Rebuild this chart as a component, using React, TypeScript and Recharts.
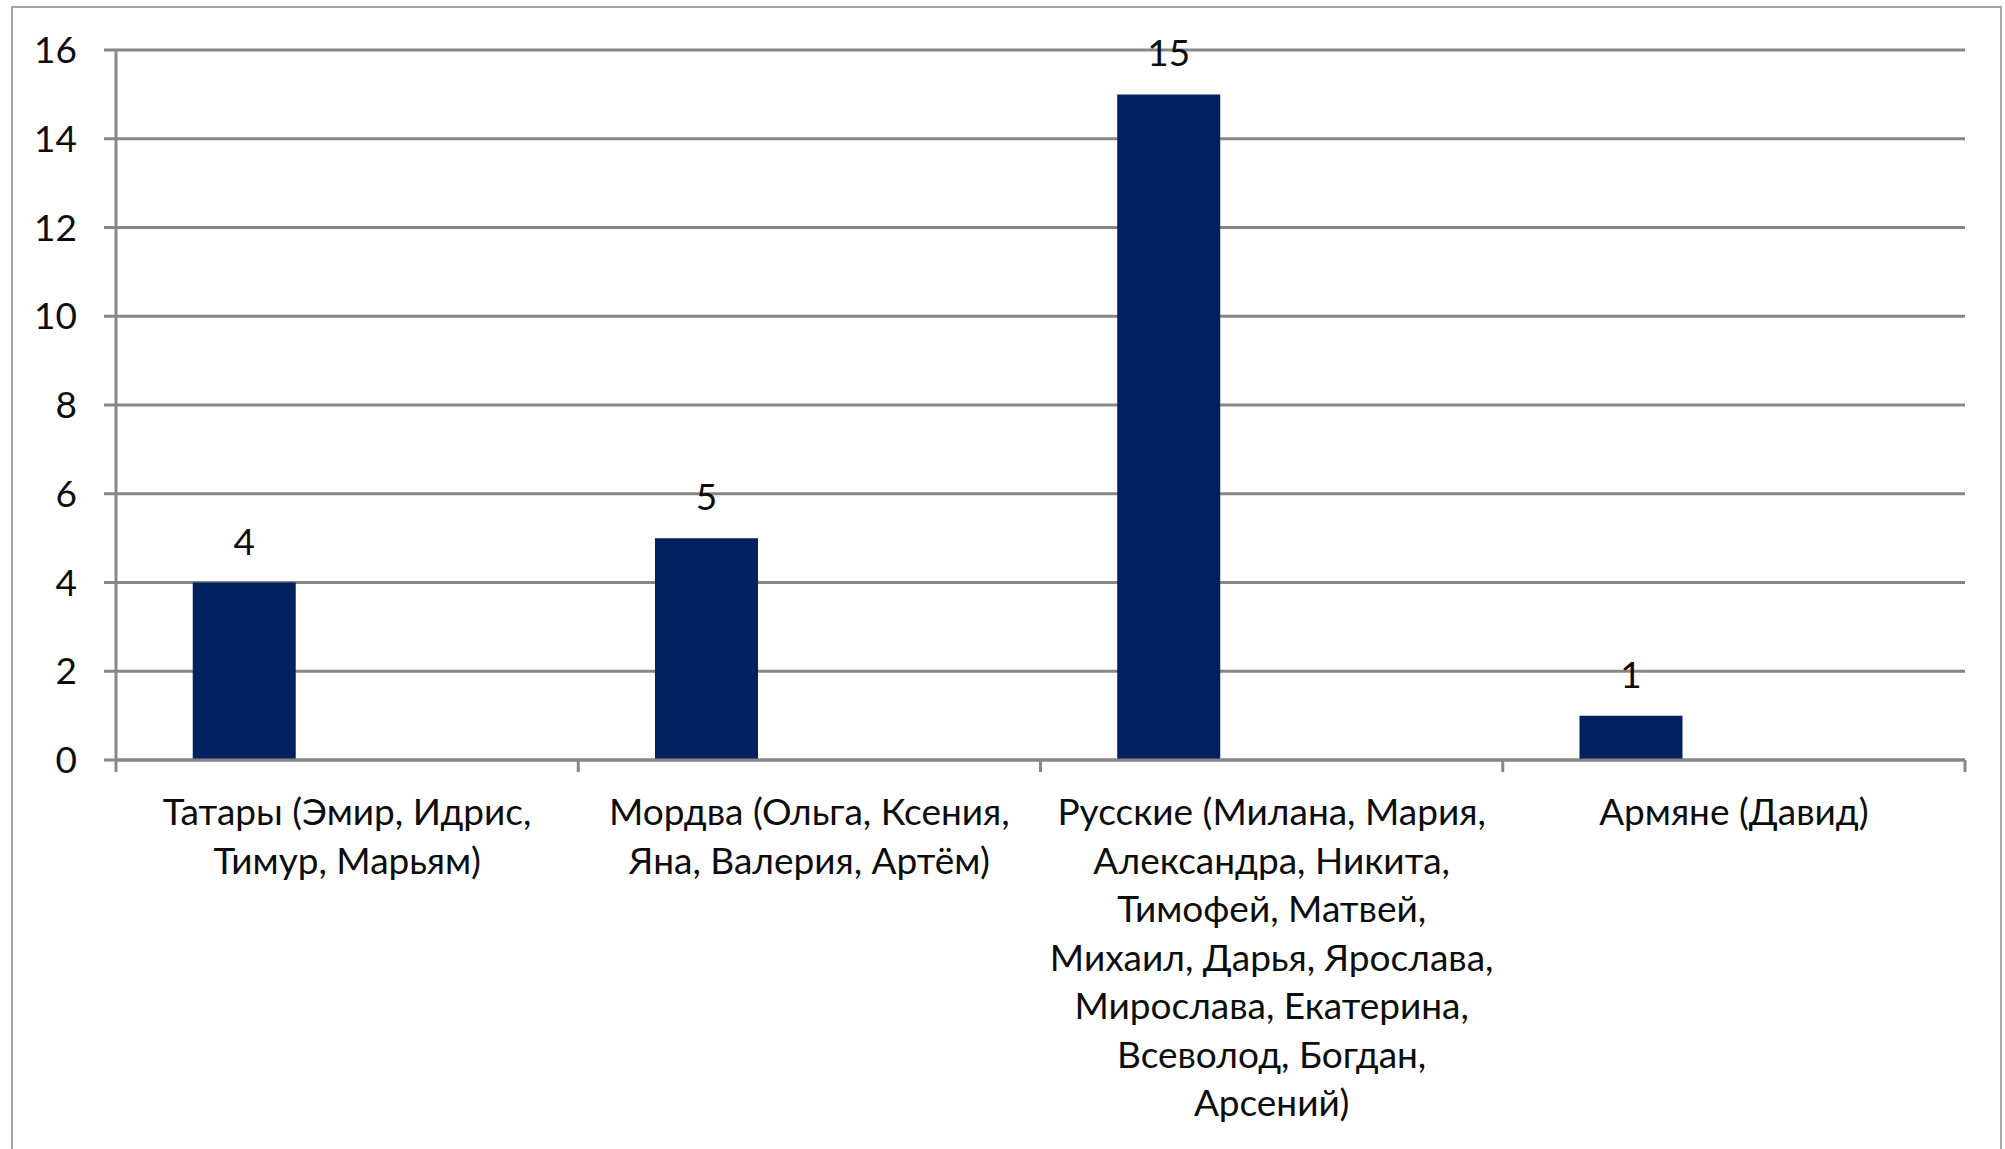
import React from "react";
import { BarChart, Bar, XAxis, YAxis, CartesianGrid, LabelList } from "recharts";

const categories = [
  "Татары (Эмир, Идрис, Тимур, Марьям)",
  "Мордва (Ольга, Ксения, Яна, Валерия, Артём)",
  "Русские (Милана, Мария, Александра, Никита, Тимофей, Матвей, Михаил, Дарья, Ярослава, Мирослава, Екатерина, Всеволод, Богдан, Арсений)",
  "Армяне (Давид)",
];
const categoryLabelLines = [
  ["Татары (Эмир, Идрис,", "Тимур, Марьям)"],
  ["Мордва (Ольга, Ксения,", "Яна, Валерия, Артём)"],
  [
    "Русские (Милана, Мария,",
    "Александра, Никита,",
    "Тимофей, Матвей,",
    "Михаил, Дарья, Ярослава,",
    "Мирослава, Екатерина,",
    "Всеволод, Богдан,",
    "Арсений)",
  ],
  ["Армяне (Давид)"],
];
const counts = [4, 5, 15, 1];
const yTicks = [0, 2, 4, 6, 8, 10, 12, 14, 16];

const data = categories.map((name, i) => ({ name, count: counts[i] }));

const W = 2005;
const H = 1149;
const M = { top: 50, right: 40, left: 0, bottom: 0 };
const Y_AXIS_W = 116;
const X_AXIS_H = H - 760;
const PLOT_W = W - M.left - M.right - Y_AXIS_W;
const BAND = PLOT_W / categories.length;

const FONT = "Lato, 'Open Sans', 'Noto Sans', sans-serif";
const FS = 37;
const GRID = "#878787";
const TEXT = "#0d0d0d";

function XTick(props: any) {
  const { x, y, payload, index } = props;
  const axisY = y - 12;
  const lines = categoryLabelLines[index] || [String(payload.value)];
  const isLast = index === categories.length - 1;
  return (
    <g>
      <line x1={x - BAND / 2} x2={x - BAND / 2} y1={axisY} y2={axisY + 12} stroke={GRID} strokeWidth={3} />
      {isLast && (
        <line x1={x + BAND / 2} x2={x + BAND / 2} y1={axisY} y2={axisY + 12} stroke={GRID} strokeWidth={3} />
      )}
      {lines.map((ln, i) => (
        <text
          key={i}
          x={x}
          y={axisY + 65 + i * 48.5}
          textAnchor="middle"
          fontFamily={FONT}
          fontSize={FS}
          fill={TEXT}
        >
          {ln}
        </text>
      ))}
    </g>
  );
}

export default function App() {
  return (
    <div style={{ position: "absolute", left: 0, top: 0, width: W, height: H, background: "#fff", overflow: "hidden" }}>
      <div
        style={{
          position: "absolute",
          left: 11,
          top: 6,
          width: W - 14,
          height: H + 20,
          borderTop: "2px solid #a6a6a6",
          borderLeft: "2px solid #a6a6a6",
          borderRight: "2px solid #a6a6a6",
          boxSizing: "border-box",
        }}
      />
      <div style={{ position: "absolute", left: 0, top: 0 }}>
        <BarChart
          width={W}
          height={H}
          data={data}
          margin={M}
          barCategoryGap="16.6%"
          barGap={0}
        >
          <CartesianGrid vertical={false} stroke={GRID} strokeWidth={3} />
          <XAxis
            dataKey="name"
            height={X_AXIS_H}
            axisLine={{ stroke: GRID, strokeWidth: 3 }}
            tickLine={false}
            tickSize={12}
            tickMargin={0}
            interval={0}
            tick={<XTick />}
          />
          <YAxis
            width={Y_AXIS_W}
            domain={[0, 16]}
            ticks={yTicks}
            interval={0}
            axisLine={{ stroke: GRID, strokeWidth: 3 }}
            tickLine={{ stroke: GRID, strokeWidth: 3 }}
            tickSize={12}
            tickMargin={27}
            tick={{ fontFamily: FONT, fontSize: FS, fill: TEXT }}
          />
          <Bar dataKey="count" fill="#002060" isAnimationActive={false}>
            <LabelList
              dataKey="count"
              position="top"
              offset={28}
              style={{ fontFamily: FONT, fontSize: FS, fill: TEXT }}
            />
          </Bar>
          <Bar dataKey="series2" fill="#c00000" isAnimationActive={false} />
          <Bar dataKey="series3" fill="#c00000" isAnimationActive={false} />
        </BarChart>
      </div>
    </div>
  );
}
